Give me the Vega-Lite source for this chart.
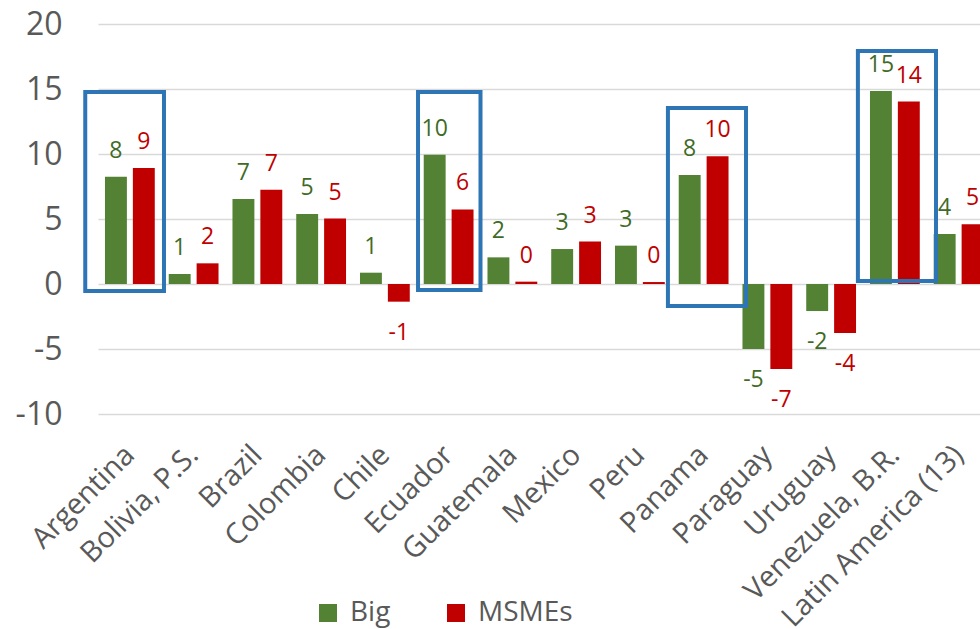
{
  "$schema": "https://vega.github.io/schema/vega-lite/v6.json",
  "width": 882,
  "height": 390,
  "autosize": {"type": "none"},
  "padding": {"left": 98, "top": 24, "right": 0, "bottom": 215},
  "config": {
    "view": {"stroke": null},
    "font": "Open Sans",
    "locale": {"number": {"decimal": ".", "thousands": ",", "grouping": [3], "currency": ["$", ""], "minus": "-"}}
  },
  "datasets": {
    "bars": [
      {"country": "Argentina", "series": "Big", "value": 8.25},
      {"country": "Argentina", "series": "MSMEs", "value": 8.92},
      {"country": "Bolivia, P.S.", "series": "Big", "value": 0.77},
      {"country": "Bolivia, P.S.", "series": "MSMEs", "value": 1.59},
      {"country": "Brazil", "series": "Big", "value": 6.54},
      {"country": "Brazil", "series": "MSMEs", "value": 7.25},
      {"country": "Colombia", "series": "Big", "value": 5.38},
      {"country": "Colombia", "series": "MSMEs", "value": 5.03},
      {"country": "Chile", "series": "Big", "value": 0.87},
      {"country": "Chile", "series": "MSMEs", "value": -1.36},
      {"country": "Ecuador", "series": "Big", "value": 9.95},
      {"country": "Ecuador", "series": "MSMEs", "value": 5.74},
      {"country": "Guatemala", "series": "Big", "value": 2.05},
      {"country": "Guatemala", "series": "MSMEs", "value": 0.18},
      {"country": "Mexico", "series": "Big", "value": 2.69},
      {"country": "Mexico", "series": "MSMEs", "value": 3.26},
      {"country": "Peru", "series": "Big", "value": 2.95},
      {"country": "Peru", "series": "MSMEs", "value": 0.15},
      {"country": "Panama", "series": "Big", "value": 8.38},
      {"country": "Panama", "series": "MSMEs", "value": 9.82},
      {"country": "Paraguay", "series": "Big", "value": -5.0},
      {"country": "Paraguay", "series": "MSMEs", "value": -6.54},
      {"country": "Uruguay", "series": "Big", "value": -2.08},
      {"country": "Uruguay", "series": "MSMEs", "value": -3.77},
      {"country": "Venezuela, B.R.", "series": "Big", "value": 14.85},
      {"country": "Venezuela, B.R.", "series": "MSMEs", "value": 14.03},
      {"country": "Latin America (13)", "series": "Big", "value": 3.85},
      {"country": "Latin America (13)", "series": "MSMEs", "value": 4.59}
    ],
    "boxes": [
      {"country": "Argentina", "x0": -0.2, "x1": 1.035, "y0": -0.54, "y1": 14.77},
      {"country": "Ecuador", "x0": 5.02, "x1": 6.0, "y0": -0.46, "y1": 14.77},
      {"country": "Panama", "x0": 8.94, "x1": 10.165, "y0": -1.69, "y1": 13.54},
      {"country": "Venezuela, B.R.", "x0": 11.92, "x1": 13.145, "y0": 0.23, "y1": 17.92}
    ]
  },
  "layer": [
    {
      "data": {"name": "bars"},
      "encoding": {
        "x": {
          "field": "country",
          "type": "nominal",
          "sort": null,
          "scale": {"range": [0, 892.5], "paddingInner": 0, "paddingOuter": 0},
          "axis": {
            "title": null,
            "domain": false,
            "ticks": false,
            "labelAngle": -45,
            "labelAlign": "right",
            "labelBaseline": "middle",
            "labelFontSize": 29,
            "labelColor": "#595959",
            "labelPadding": 36,
            "labelOverlap": false,
            "labelBound": false,
            "labelLimit": 0
          }
        },
        "xOffset": {
          "field": "series",
          "type": "nominal",
          "scale": {"domain": ["Big", "MSMEs"], "paddingInner": 0.2143, "paddingOuter": 0.25}
        },
        "y": {
          "field": "value",
          "type": "quantitative",
          "scale": {"domain": [-10, 20], "nice": false, "zero": false},
          "axis": {
            "title": null,
            "values": [-10, -5, 0, 5, 10, 15, 20],
            "domain": false,
            "ticks": false,
            "labelFontSize": 32,
            "labelColor": "#595959",
            "labelPadding": 36,
            "grid": true,
            "gridColor": "#d9d9d9",
            "gridWidth": 1.5
          }
        }
      },
      "layer": [
        {
          "mark": {"type": "bar"},
          "encoding": {
            "color": {
              "field": "series",
              "type": "nominal",
              "scale": {"domain": ["Big", "MSMEs"], "range": ["#548235", "#C00000"]},
              "legend": {
                "title": null,
                "orient": "none",
                "direction": "horizontal",
                "legendX": 216,
                "legendY": 575,
                "symbolType": "square",
                "symbolSize": 324,
                "symbolStrokeWidth": 0,
                "labelFontSize": 28,
                "labelColor": "#595959",
                "labelOffset": 8,
                "columnPadding": 51
              }
            }
          }
        },
        {
          "transform": [{"filter": "datum.value >= 0"}],
          "mark": {"type": "text", "baseline": "alphabetic", "dy": -19, "fontSize": 23},
          "encoding": {
            "text": {"field": "value", "type": "quantitative", "format": ".0f"},
            "color": {"condition": {"test": "datum.series === 'Big'", "value": "#3F6B27"}, "value": "#C00000"}
          }
        },
        {
          "transform": [{"filter": "datum.value < 0"}],
          "mark": {"type": "text", "baseline": "alphabetic", "dy": 38, "fontSize": 23},
          "encoding": {
            "text": {"field": "value", "type": "quantitative", "format": ".0f"},
            "color": {"condition": {"test": "datum.series === 'Big'", "value": "#3F6B27"}, "value": "#C00000"}
          }
        }
      ]
    },
    {
      "data": {"name": "boxes"},
      "mark": {"type": "rect", "filled": false, "stroke": "#2E75B6", "strokeWidth": 4},
      "encoding": {
        "x": {
          "field": "x0",
          "type": "quantitative",
          "scale": {"domain": [0, 14], "range": [0, 892.5], "nice": false, "zero": false},
          "axis": null
        },
        "x2": {"field": "x1"},
        "y": {"field": "y0", "type": "quantitative"},
        "y2": {"field": "y1"}
      }
    }
  ],
  "resolve": {"scale": {"x": "independent"}}
}
